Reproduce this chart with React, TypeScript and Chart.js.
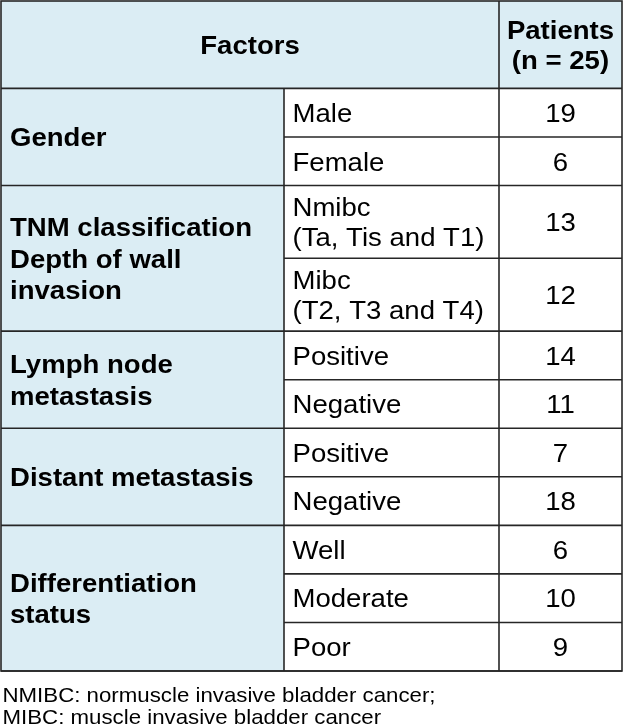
import React, { useEffect, useRef } from "react";
import { Chart, registerables } from "chart.js";

Chart.register(...registerables);

// ---- Data ----
const headerLabels = ["Factors", "Patients\n(n = 25)"];
const factors = [
  "Gender",
  "TNM classification\nDepth of wall\ninvasion",
  "Lymph node\nmetastasis",
  "Distant metastasis",
  "Differentiation\nstatus",
];
const subgroups = [
  ["Male", "Female"],
  ["Nmibc\n(Ta, Tis and T1)", "Mibc\n(T2, T3 and T4)"],
  ["Positive", "Negative"],
  ["Positive", "Negative"],
  ["Well", "Moderate", "Poor"],
];
const patients = [
  [19, 6],
  [13, 12],
  [14, 11],
  [7, 18],
  [6, 10, 9],
];
const footnotes = [
  "NMIBC: normuscle invasive bladder cancer;",
  "MIBC: muscle invasive bladder cancer",
];

// ---- Layout (not data) ----
const COL_W = [283, 215, 123];
const HEADER_H = 1.8;
const ROW_H = 1;
const ROW_H_2LINE = 1.5;
const BLUE = "#dbedf4";
const LINE = "#262626";
const FONT = '"Liberation Sans", Arial, sans-serif';
const SIZE = 26;
const SX = 1.06;

function drawText(
  ctx: CanvasRenderingContext2D,
  text: string,
  x: number,
  yc: number,
  align: CanvasTextAlign,
  bold: boolean,
  size: number,
  lineH: number
) {
  const lines = text.split("\n");
  const cap = size * 0.716;
  const first = yc + cap / 2 - ((lines.length - 1) * lineH) / 2;
  ctx.font = `${bold ? "bold " : ""}${size}px ${FONT}`;
  ctx.fillStyle = "#000";
  lines.forEach((ln, i) => {
    ctx.save();
    ctx.translate(x, first + i * lineH);
    ctx.scale(SX, 1);
    ctx.textAlign = align;
    ctx.textBaseline = "alphabetic";
    ctx.fillText(ln, 0, 0);
    ctx.restore();
  });
}

const tablePlugin = {
  id: "tablePlugin",
  afterDraw(chart: any) {
    const ctx: CanvasRenderingContext2D = chart.ctx;
    const xs = chart.scales.x;
    const ys = chart.scales.y;
    const X = (v: number) => xs.getPixelForValue(v);
    const Y = (v: number) => ys.getPixelForValue(v);
    const c0 = 0;
    const c1 = COL_W[0];
    const c2 = COL_W[0] + COL_W[1];
    const c3 = c2 + COL_W[2];

    // compute rows
    type R = { g: number; s: number; top: number; bottom: number };
    const rows: R[] = [];
    const groups: { top: number; bottom: number }[] = [];
    let y = HEADER_H;
    subgroups.forEach((subs, g) => {
      const gTop = y;
      subs.forEach((s, si) => {
        const h = s.includes("\n") ? ROW_H_2LINE : ROW_H;
        rows.push({ g, s: si, top: y, bottom: y + h });
        y += h;
      });
      groups.push({ top: gTop, bottom: y });
    });
    const total = y;

    ctx.save();
    // backgrounds
    ctx.fillStyle = "#ffffff";
    ctx.fillRect(X(c0), Y(0), X(c3) - X(c0), Y(total) - Y(0));
    ctx.fillStyle = BLUE;
    ctx.fillRect(X(c0), Y(0), X(c3) - X(c0), Y(HEADER_H) - Y(0));
    ctx.fillRect(X(c0), Y(HEADER_H), X(c1) - X(c0), Y(total) - Y(HEADER_H));

    // lines
    ctx.strokeStyle = LINE;
    ctx.lineWidth = 1.6;
    const line = (x1: number, y1: number, x2: number, y2: number) => {
      ctx.beginPath();
      ctx.moveTo(X(x1), Y(y1));
      ctx.lineTo(X(x2), Y(y2));
      ctx.stroke();
    };
    ctx.strokeRect(X(c0), Y(0), X(c3) - X(c0), Y(total) - Y(0));
    line(c0, HEADER_H, c3, HEADER_H);
    line(c1, HEADER_H, c1, total);
    line(c2, 0, c2, total);
    groups.forEach((gr) => line(c0, gr.bottom, c3, gr.bottom));
    rows.forEach((r) => {
      if (r.bottom !== groups[r.g].bottom) line(c1, r.bottom, c3, r.bottom);
    });

    // header text
    drawText(ctx, headerLabels[0], (X(c0) + X(c2)) / 2, Y(HEADER_H / 2), "center", true, SIZE, 30);
    drawText(ctx, headerLabels[1], (X(c2) + X(c3)) / 2, Y(HEADER_H / 2), "center", true, SIZE, 30);

    // group labels
    groups.forEach((gr, g) => {
      drawText(ctx, factors[g], X(c0) + 9, Y((gr.top + gr.bottom) / 2), "left", true, SIZE, 31.5);
    });
    // subgroup + values
    rows.forEach((r) => {
      const yc = Y((r.top + r.bottom) / 2);
      drawText(ctx, subgroups[r.g][r.s], X(c1) + 8.5, yc, "left", false, SIZE, 30);
      drawText(ctx, String(patients[r.g][r.s]), (X(c2) + X(c3)) / 2, yc, "center", false, SIZE, 30);
    });

    // footnotes
    const fb = Y(total);
    footnotes.forEach((t, i) => {
      ctx.save();
      ctx.font = `21px ${FONT}`;
      ctx.fillStyle = "#000";
      ctx.translate(X(c0) + 1.5, fb + 30.5 + i * 22.5);
      ctx.scale(SX, 1);
      ctx.textAlign = "left";
      ctx.textBaseline = "alphabetic";
      ctx.fillText(t, 0, 0);
      ctx.restore();
    });
    ctx.restore();
  },
};

function totalRowUnits() {
  let y = HEADER_H;
  subgroups.forEach((subs) =>
    subs.forEach((s) => (y += s.includes("\n") ? ROW_H_2LINE : ROW_H))
  );
  return y;
}

export default function App() {
  const ref = useRef<HTMLCanvasElement | null>(null);
  useEffect(() => {
    if (!ref.current) return;
    const chart = new Chart(ref.current, {
      type: "scatter",
      data: { datasets: [] },
      options: {
        animation: false,
        responsive: false,
        events: [],
        layout: { padding: { left: 1, top: 1, right: 2, bottom: 56 } },
        plugins: { legend: { display: false }, tooltip: { enabled: false }, title: { display: false } },
        scales: {
          x: { type: "linear", display: false, min: 0, max: COL_W[0] + COL_W[1] + COL_W[2] },
          y: { type: "linear", display: false, min: 0, max: totalRowUnits(), reverse: true },
        },
      },
      plugins: [tablePlugin],
    } as any);
    return () => chart.destroy();
  }, []);
  return (
    <div style={{ position: "absolute", left: 0, top: 0, width: 624, height: 727, background: "#fff" }}>
      <canvas ref={ref} width={624} height={727} style={{ display: "block" }} />
    </div>
  );
}
